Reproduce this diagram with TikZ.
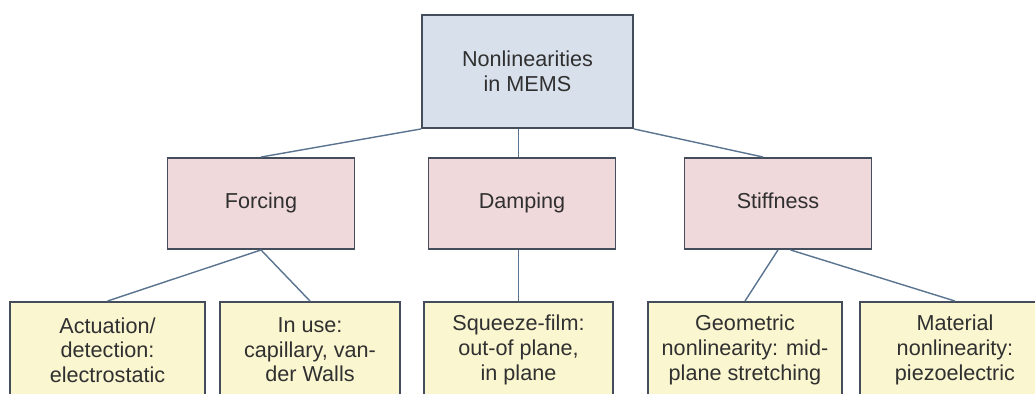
\documentclass[tikz,border=0pt]{standalone}
\usepackage{fontspec}
\setmainfont{Liberation Sans}
\usepackage{tikz}
\definecolor{boxline}{HTML}{434D5C}
\definecolor{linkline}{HTML}{5A7490}
\definecolor{rootfill}{HTML}{D8E0EC}
\definecolor{groupfill}{HTML}{F0D9DB}
\definecolor{leaffill}{HTML}{FAF6D0}
\definecolor{textgrey}{HTML}{303030}
\tikzset{
  box/.style={draw=boxline, line width=1.1pt, align=center, text=textgrey,
    inner sep=0pt, font=\fontsize{12.3}{14}\selectfont},
  rootbox/.style={box, fill=rootfill, minimum width=4.22cm, minimum height=2.26cm},
  groupbox/.style={box, fill=groupfill, minimum width=3.74cm, minimum height=1.82cm,
    text height=0.72em, text depth=0.2em},
  leafbox/.style={box, fill=leaffill, minimum height=1.92cm},
  link/.style={draw=linkline, line width=0.8pt}
}
\begin{document}
\begin{tikzpicture}[x=0.02cm,y=-0.02cm]
    \useasboundingbox (0,0) rectangle (1035,394);
    \fill[white] (0,0) rectangle (1035,394);
    \clip (0,0) rectangle (1035,394);
    \node[rootbox] (mems) at (527.5,71.5) {Nonlinearities\\in MEMS};
    \node[groupbox] (forcing) at (261,203.5) {Forcing};
    \node[groupbox] (damping) at (522,203.5) {Damping};
    \node[groupbox] (stiffness) at (778,203.5) {Stiffness};
    \node[leafbox, minimum width=3.9cm] (actuation) at (107.5,350)
      {Actuation/\\detection:\\electrostatic};
    \node[leafbox, minimum width=3.6cm] (inuse) at (310,350)
      {In use:\\capillary, van-\\der Walls};
    \node[leafbox, minimum width=3.78cm] (squeeze) at (518.5,350)
      {Squeeze-film:\\out-of plane,\\in plane};
    \node[leafbox, minimum width=3.88cm] (geometric) at (745,350)
      {Geometric\\nonlinearity: mid-\\plane stretching};
    \node[leafbox, minimum width=3.8cm] (material) at (955,350)
      {Material\\nonlinearity:\\piezoelectric};
    \draw[link] (mems.south west) -- (forcing.north);
    \draw[link] (squeeze.north |- mems.south) -- (squeeze.north |- damping.north);
    \draw[link] (mems.south east) -- ([xshift=-0.3cm]stiffness.north);
    \draw[link] (forcing.south) -- (actuation.north);
    \draw[link] (forcing.south) -- (inuse.north);
    \draw[link] (squeeze.north |- damping.south) -- (squeeze.north);
    \draw[link] (stiffness.south) -- (geometric.north);
    \draw[link] ([xshift=0.25cm]stiffness.south) -- (material.north);
\end{tikzpicture}
\end{document}
